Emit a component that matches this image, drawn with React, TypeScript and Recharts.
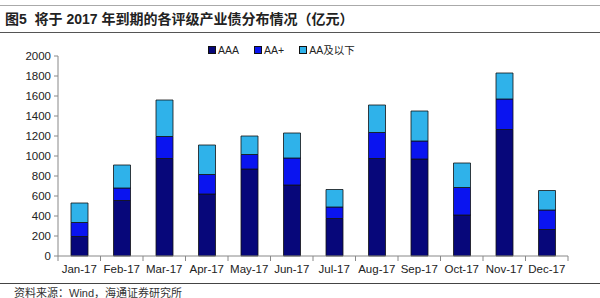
import React from "react";
import { Bar, BarChart, Legend, XAxis, YAxis } from "recharts";

const months = ["Jan-17", "Feb-17", "Mar-17", "Apr-17", "May-17", "Jun-17", "Jul-17", "Aug-17", "Sep-17", "Oct-17", "Nov-17", "Dec-17"];
const aaa = [195, 555, 975, 620, 870, 710, 375, 975, 970, 410, 1265, 265];
const aaPlus = [140, 125, 220, 195, 145, 270, 115, 260, 180, 275, 305, 195];
const aaBelow = [195, 230, 365, 295, 185, 250, 175, 275, 300, 245, 260, 195];
const yTicks = [0, 200, 400, 600, 800, 1000, 1200, 1400, 1600, 1800, 2000];

const data = months.map((m, i) => ({ month: m, aaa: aaa[i], aaPlus: aaPlus[i], aaBelow: aaBelow[i] }));

const colors = { aaa: "#07077a", aaPlus: "#0a14f0", aaBelow: "#2fb2ea" };
const font = "'Liberation Sans', Arial, sans-serif";
const cjk = "'Noto Sans CJK SC', sans-serif";

const PLOT_LEFT = 58;
const PLOT_RIGHT = 568;
const band = (PLOT_RIGHT - PLOT_LEFT) / months.length;

// category labels plus tick marks on the band edges
const MonthTick = (props: any) => {
  const { x, y, payload, index } = props;
  const half = band / 2;
  return (
    <g>
      <line x1={x - half} x2={x - half} y1={y - 8} y2={y - 3} stroke="#888" />
      {index === months.length - 1 && (
        <line x1={x + half} x2={x + half} y1={y - 8} y2={y - 3} stroke="#888" />
      )}
      <text x={x} y={y + 9} textAnchor="middle" fontSize={11.5} fontFamily={font} fill="#222">
        {payload.value}
      </text>
    </g>
  );
};

const legendItems = [
  { key: "aaa", label: "AAA", color: colors.aaa },
  { key: "aaPlus", label: "AA+", color: colors.aaPlus },
  { key: "aaBelow", label: "AA及以下", color: colors.aaBelow }
];

const LegendBox = () => (
  <div style={{ display: "flex", fontFamily: font, fontSize: 10.5, color: "#222" }}>
    {legendItems.map((it, i) => (
      <div key={it.key} style={{ display: "flex", alignItems: "center", marginRight: 15 }}>
        <span style={{ width: 6, height: 6, background: it.color, border: "1px solid #111", marginRight: 2 }} />
        <span style={{ fontFamily: i === 2 ? `${font}, ${cjk}` : font }}>{it.label}</span>
      </div>
    ))}
  </div>
);

export default function App() {
  return (
    <div style={{ position: "relative", width: 600, height: 298, background: "#fff", overflow: "hidden" }}>
      <style>{`body{margin:0}`}</style>
      <div style={{ position: "absolute", left: 0, top: 5, width: 600, borderTop: "1px solid #aaa" }} />
      <div
        style={{
          position: "absolute",
          left: 5,
          top: 8,
          fontFamily: `${font}, ${cjk}`,
          fontWeight: 700,
          fontSize: 14,
          color: "#222",
          whiteSpace: "pre"
        }}
      >
        图5  将于 2017 年到期的各评级产业债分布情况（亿元）
      </div>
      <div style={{ position: "absolute", left: 0, top: 32, width: 600, borderTop: "1px solid #555" }} />
      <div style={{ position: "absolute", left: 0, top: 0 }}>
        <BarChart width={600} height={298} data={data} margin={{ top: 41, right: 600 - PLOT_RIGHT, bottom: 15, left: 0 }} barSize={17}>
          <Legend
            verticalAlign="top"
            content={() => <LegendBox />}
            wrapperStyle={{ position: "absolute", left: 208, top: 42, width: "auto" }}
          />
          <YAxis
            domain={[0, 2000]}
            ticks={yTicks}
            width={PLOT_LEFT}
            interval={0}
            tickSize={4}
            tickMargin={3}
            stroke="#888"
            tick={{ fontSize: 11.5, fontFamily: font, fill: "#222" }}
          />
          <XAxis
            dataKey="month"
            interval={0}
            tickLine={false}
            stroke="#888"
            height={27}
            tick={<MonthTick />}
          />
          <Bar dataKey="aaa" stackId="s" fill={colors.aaa} stroke="#111" strokeWidth={0.8} isAnimationActive={false} />
          <Bar dataKey="aaPlus" stackId="s" fill={colors.aaPlus} stroke="#111" strokeWidth={0.8} isAnimationActive={false} />
          <Bar dataKey="aaBelow" stackId="s" fill={colors.aaBelow} stroke="#111" strokeWidth={0.8} isAnimationActive={false} />
        </BarChart>
      </div>
      <div style={{ position: "absolute", left: 0, top: 283, width: 600, borderTop: "1px solid #444" }} />
      <div style={{ position: "absolute", left: 14, top: 284, fontFamily: `${font}, ${cjk}`, fontSize: 11, color: "#333" }}>
        资料来源：Wind，海通证券研究所
      </div>
    </div>
  );
}
